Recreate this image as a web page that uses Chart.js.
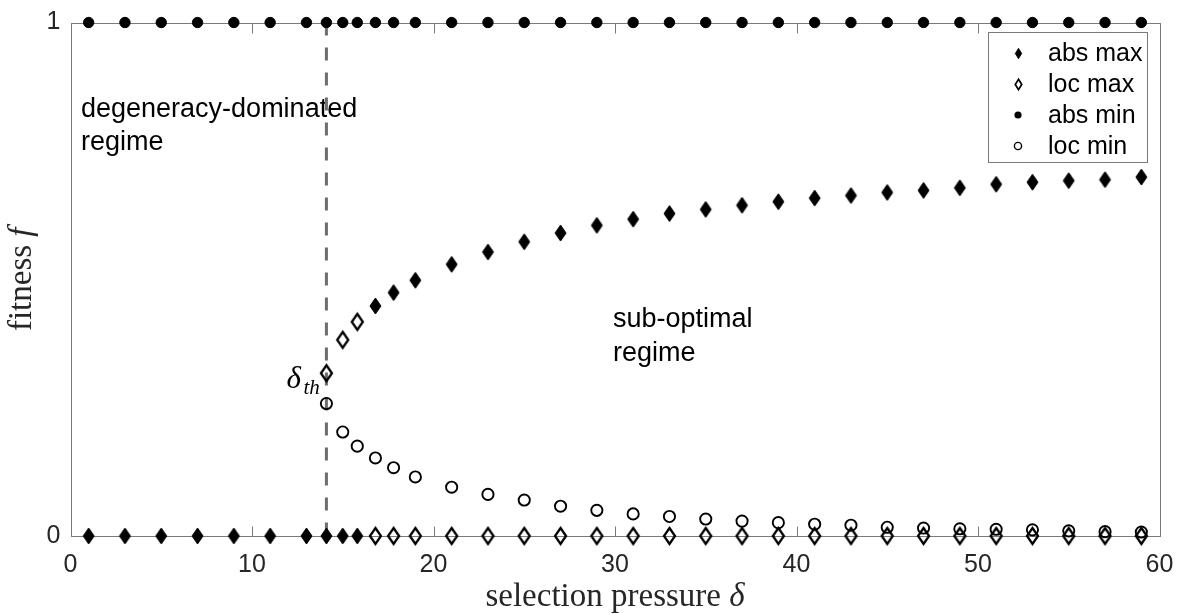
<!DOCTYPE html>
<html>
<head>
<meta charset="utf-8">
<script src="https://cdn.jsdelivr.net/npm/chart.js@4.4.1/dist/chart.umd.min.js"></script>
<style>
  html, body { margin: 0; padding: 0; background: #ffffff; }
  #wrap { width: 1191px; height: 614px; }
</style>
</head>
<body>
<div id="wrap"><canvas id="chart" width="1191" height="614"></canvas></div>
<script>
// Selection pressure values (x) and fitness values (y) for each kind of extremum
const absMaxDelta = [1, 3, 5, 7, 9, 11, 13, 14.1, 15, 15.8, 16.8, 17.8, 19, 21, 23, 25, 27, 29, 31, 33, 35, 37, 39, 41, 43, 45, 47, 49, 51, 53, 55, 57, 59];
const absMaxFit   = [0, 0, 0, 0, 0, 0, 0, 0, 0, 0, 0.448, 0.474, 0.498, 0.529, 0.553, 0.573, 0.590, 0.605, 0.617, 0.628, 0.636, 0.644, 0.651, 0.658, 0.663, 0.669, 0.673, 0.678, 0.685, 0.689, 0.692, 0.694, 0.699];

const locMaxDelta = [14.1, 15, 15.8, 16.8, 17.8, 19, 21, 23, 25, 27, 29, 31, 33, 35, 37, 39, 41, 43, 45, 47, 49, 51, 53, 55, 57, 59];
const locMaxFit   = [0.317, 0.382, 0.417, 0, 0, 0, 0, 0, 0, 0, 0, 0, 0, 0, 0, 0, 0, 0, 0, 0, 0, 0, 0, 0, 0, 0];

const absMinDelta = [1, 3, 5, 7, 9, 11, 13, 14.1, 15, 15.8, 16.8, 17.8, 19, 21, 23, 25, 27, 29, 31, 33, 35, 37, 39, 41, 43, 45, 47, 49, 51, 53, 55, 57, 59];
const absMinFit   = [1, 1, 1, 1, 1, 1, 1, 1, 1, 1, 1, 1, 1, 1, 1, 1, 1, 1, 1, 1, 1, 1, 1, 1, 1, 1, 1, 1, 1, 1, 1, 1, 1];

const locMinDelta = [14.1, 15, 15.8, 16.8, 17.8, 19, 21, 23, 25, 27, 29, 31, 33, 35, 37, 39, 41, 43, 45, 47, 49, 51, 53, 55, 57, 59];
const locMinFit   = [0.258, 0.2025, 0.175, 0.152, 0.133, 0.115, 0.095, 0.081, 0.070, 0.058, 0.050, 0.043, 0.038, 0.033, 0.029, 0.026, 0.023, 0.021, 0.017, 0.0155, 0.014, 0.013, 0.012, 0.010, 0.0085, 0.0077];

const deltaThreshold = 14.1;
const seriesNames = ['abs max', 'loc max', 'abs min', 'loc min'];
const xTickValues = [0, 10, 20, 30, 40, 50, 60];
const yTickValues = [0, 1];

const SANS = '"Liberation Sans", Arial, Helvetica, sans-serif';
const SERIF = '"Liberation Serif", "Times New Roman", serif';
const AXIS_GREY = '#7a7a7a';
const TEXT_GREY = '#262626';

function pairs(xs, ys) { return xs.map((x, i) => ({ x: x, y: ys[i] })); }

// Tall diamond marker drawn into a small canvas, used as a point style
function diamondMarker(w, h, filled, lw) {
  const pad = Math.ceil(lw) + 1;
  const c = document.createElement('canvas');
  c.width = Math.round(w + 2 * pad);
  c.height = Math.round(h + 2 * pad);
  const g = c.getContext('2d');
  const cx = c.width / 2, cy = c.height / 2;
  g.beginPath();
  g.moveTo(cx, cy - h / 2);
  g.lineTo(cx + w / 2, cy);
  g.lineTo(cx, cy + h / 2);
  g.lineTo(cx - w / 2, cy);
  g.closePath();
  if (filled) { g.fillStyle = '#000'; g.fill(); }
  g.lineWidth = lw;
  g.strokeStyle = '#000';
  g.lineJoin = 'miter';
  g.stroke();
  return c;
}

const filledDiamond = diamondMarker(11, 16, true, 1);
const openDiamond = diamondMarker(11, 16, false, 2.3);
const legendFilledDiamond = diamondMarker(6.5, 10.5, true, 0.8);
const legendOpenDiamond = diamondMarker(6.5, 10.5, false, 1.7);

// Box, inward ticks and region labels, drawn beneath the markers
const framePlugin = {
  id: 'frame',
  beforeDatasetsDraw(chart) {
    const { ctx, chartArea: a, scales } = chart;
    ctx.save();
    // region annotations
    ctx.fillStyle = '#000';
    ctx.font = '27px ' + SANS;
    ctx.textAlign = 'left';
    ctx.textBaseline = 'alphabetic';
    ctx.fillText('degeneracy-dominated', 81, 117);
    ctx.fillText('regime', 81, 150);
    ctx.fillText('sub-optimal', 613, 327);
    ctx.fillText('regime', 613, 361);

    // axes box
    ctx.strokeStyle = AXIS_GREY;
    ctx.lineWidth = 1;
    const L = Math.round(a.left) + 0.5, R = Math.round(a.right) + 0.5;
    const T = Math.round(a.top) + 0.5, B = Math.round(a.bottom) + 0.5;
    ctx.strokeRect(L, T, R - L, B - T);
    ctx.beginPath();
    xTickValues.forEach(v => {
      const px = Math.round(scales.x.getPixelForValue(v)) + 0.5;
      ctx.moveTo(px, B); ctx.lineTo(px, B - 10);
      ctx.moveTo(px, T); ctx.lineTo(px, T + 10);
    });
    yTickValues.forEach(v => {
      const py = Math.round(scales.y.getPixelForValue(v)) + 0.5;
      ctx.moveTo(L, py); ctx.lineTo(L + 10, py);
      ctx.moveTo(R, py); ctx.lineTo(R - 10, py);
    });
    ctx.stroke();
    ctx.restore();
  },
  afterDatasetsDraw(chart) {
    const { ctx, chartArea: a, scales } = chart;
    ctx.save();
    // threshold label
    const tx = scales.x.getPixelForValue(deltaThreshold);
    ctx.fillStyle = '#000';
    ctx.textAlign = 'left';
    ctx.textBaseline = 'alphabetic';
    ctx.font = 'italic 31px ' + SERIF;
    ctx.fillText('\u03B4', tx - 40, 388);
    ctx.font = 'italic 21px ' + SERIF;
    ctx.fillText('th', tx - 23, 394);

    // legend
    const bx = 988.5, by = 32.5, bw = 159, bh = 130;
    ctx.fillStyle = '#ffffff';
    ctx.fillRect(bx, by, bw, bh);
    ctx.strokeStyle = AXIS_GREY;
    ctx.lineWidth = 1;
    ctx.strokeRect(bx, by, bw, bh);
    const rowY = [53, 84, 115, 146];
    const mx = 1018;
    ctx.font = '25px ' + SANS;
    ctx.textBaseline = 'middle';
    seriesNames.forEach((name, i) => {
      const y = rowY[i];
      if (i === 0 || i === 1) {
        const img = i === 0 ? legendFilledDiamond : legendOpenDiamond;
        ctx.drawImage(img, Math.round(mx - img.width / 2), Math.round(y - img.height / 2));
      } else {
        ctx.beginPath();
        ctx.arc(mx, y, 3.6, 0, Math.PI * 2);
        if (i === 2) { ctx.fillStyle = '#000'; ctx.fill(); }
        else { ctx.strokeStyle = '#000'; ctx.lineWidth = 1.4; ctx.stroke(); }
      }
      ctx.fillStyle = '#000';
      ctx.fillText(name, 1048, y + 1);
    });

    // axis titles
    const cx = (a.left + a.right) / 2;
    ctx.fillStyle = TEXT_GREY;
    ctx.textBaseline = 'middle';
    const up = '33px ' + SERIF, it = 'italic 33px ' + SERIF;
    ctx.font = up; const w1 = ctx.measureText('selection pressure ').width;
    ctx.font = it; const w2 = ctx.measureText('\u03B4').width;
    const x0 = cx - (w1 + w2) / 2;
    ctx.font = up; ctx.fillText('selection pressure ', x0, 597);
    ctx.font = it; ctx.fillText('\u03B4', x0 + w1, 597);

    const cy = (a.top + a.bottom) / 2;
    ctx.save();
    ctx.translate(22, cy);
    ctx.rotate(-Math.PI / 2);
    ctx.font = up; const v1 = ctx.measureText('fitness ').width;
    ctx.font = it; const v2 = ctx.measureText('f').width;
    const s0 = -(v1 + v2) / 2;
    ctx.font = up; ctx.fillText('fitness ', s0, 0);
    ctx.font = it; ctx.fillText('f', s0 + v1, 0);
    ctx.restore();
    ctx.restore();
  }
};

new Chart(document.getElementById('chart'), {
  type: 'scatter',
  data: {
    datasets: [
      {
        label: seriesNames[0],
        data: pairs(absMaxDelta, absMaxFit),
        pointStyle: filledDiamond,
        pointRadius: 8,
        showLine: false,
        clip: false
      },
      {
        label: seriesNames[1],
        data: pairs(locMaxDelta, locMaxFit),
        pointStyle: openDiamond,
        pointRadius: 8,
        showLine: false,
        clip: false
      },
      {
        label: seriesNames[2],
        data: pairs(absMinDelta, absMinFit),
        pointStyle: 'circle',
        pointRadius: 5.2,
        pointBorderWidth: 1,
        pointBackgroundColor: '#000',
        pointBorderColor: '#000',
        showLine: false,
        clip: false
      },
      {
        label: seriesNames[3],
        data: pairs(locMinDelta, locMinFit),
        pointStyle: 'circle',
        pointRadius: 5.6,
        pointBorderWidth: 1.9,
        pointBackgroundColor: 'rgba(0,0,0,0)',
        pointBorderColor: '#000',
        showLine: false,
        clip: false
      },
      {
        label: 'threshold',
        data: [{ x: deltaThreshold, y: 1 }, { x: deltaThreshold, y: 0 }],
        showLine: true,
        borderColor: '#6e6e6e',
        borderWidth: 3,
        borderDash: [13, 12],
        pointRadius: 0,
        clip: false
      }
    ]
  },
  options: {
    responsive: false,
    animation: false,
    devicePixelRatio: 1,
    layout: { padding: { top: 19, right: 31.5, bottom: 0, left: 0 } },
    plugins: {
      legend: { display: false },
      tooltip: { enabled: false }
    },
    scales: {
      x: {
        type: 'linear',
        min: 0,
        max: 60,
        afterBuildTicks: s => { s.ticks = xTickValues.map(v => ({ value: v })); },
        afterFit: s => { s.height = 78; },
        grid: { display: false, drawTicks: false },
        border: { display: false },
        title: { display: false },
        ticks: {
          color: TEXT_GREY,
          font: { family: SANS, size: 25, lineHeight: 1 },
          padding: 17,
          maxRotation: 0,
          autoSkip: false
        }
      },
      y: {
        type: 'linear',
        min: 0,
        max: 1,
        afterBuildTicks: s => { s.ticks = yTickValues.map(v => ({ value: v })); },
        afterFit: s => { s.width = 70.5; },
        grid: { display: false, drawTicks: false },
        border: { display: false },
        title: { display: false },
        ticks: {
          color: TEXT_GREY,
          font: { family: SANS, size: 25, lineHeight: 1 },
          padding: 10,
          autoSkip: false
        }
      }
    }
  },
  plugins: [framePlugin]
});
</script>
</body>
</html>
